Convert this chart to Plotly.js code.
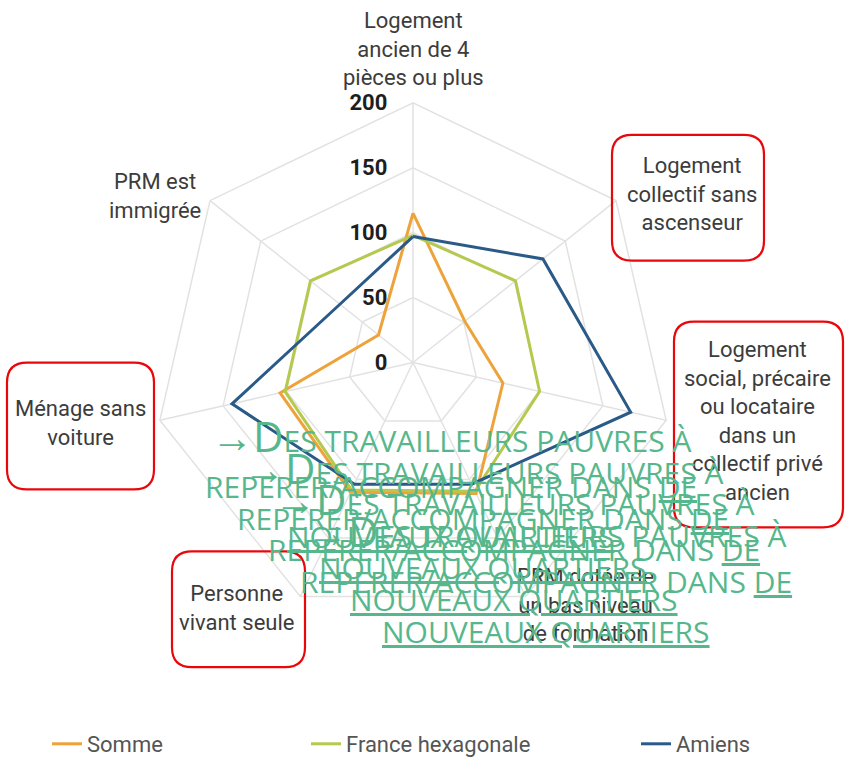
<!DOCTYPE html>
<html>
<head>
<meta charset="utf-8">
<script src="https://cdn.plot.ly/plotly-3.0.1.min.js"></script>
<style>html,body{margin:0;padding:0;background:#fff;}#chart{width:846px;height:765px;}</style>
</head>
<body>
<div id="chart"></div>
<script>
// ---- data ----
const categories = [
  "Logement ancien de 4 pièces ou plus",
  "Logement collectif sans ascenseur",
  "Logement social, précaire ou locataire dans un collectif privé ancien",
  "PRM dotée de un bas niveau de formation",
  "Personne vivant seule",
  "Ménage sans voiture",
  "PRM est immigrée"
];
const categoryLabels = [
  "Logement<br>ancien de 4<br>pièces ou plus",
  "Logement<br>collectif sans<br>ascenseur",
  "Logement<br>social, précaire<br>ou locataire<br>dans un<br>collectif privé<br>ancien",
  "PRM dotée de<br>un bas niveau<br>de formation",
  "Personne<br>vivant seule",
  "Ménage sans<br>voiture",
  "PRM est<br>immigrée"
];
const seriesNames = ["Somme", "France hexagonale", "Amiens"];
const somme  = [115, 51, 71, 112, 111, 105, 34];
const france = [98, 101, 100, 110, 109, 101, 101];
const amiens = [97, 128, 172, 104, 104, 143, 72];
const radialTicks = [0, 50, 100, 150, 200];
const noteLines = [
  '<span style="font-size:42px">→D</span>ES TRAVAILLEURS PAUVRES À',
  'REPERER/ACCOMPAGNER DANS <u>DE</u>',
  '<u>NOUVEAUX QUARTIERS</u>'
];

// ---- layout helpers ----
const W = 846, H = 765;
const px = x => x / W;
const py = y => 1 - y / H;
const cx = 413, cy = 363, R = 260;

const colors = ["#EDA33A", "#B5C94E", "#2A5A88"];
const seriesData = [somme, france, amiens];
const legendIds = ["legend", "legend2", "legend3"];

const traces = seriesData.map((vals, i) => ({
  type: "scatterpolar",
  mode: "lines",
  name: seriesNames[i],
  r: vals.concat([vals[0]]),
  theta: categories.concat([categories[0]]),
  line: {color: colors[i], width: 3},
  legend: legendIds[i],
  hoverinfo: "skip"
}));

// category label positions (pixel centers)
const labelPos = [
  [413, 49], [692, 194], [757, 422], [585, 606], [236, 609], [80, 424], [155, 196]
];
const annotations = categoryLabels.map((t, i) => ({
  xref: "paper", yref: "paper",
  x: px(labelPos[i][0]), y: py(labelPos[i][1]),
  xanchor: "center", yanchor: "middle",
  text: t, showarrow: false,
  font: {family: "Roboto", size: 22, color: "#3c3c3c"}
}));

// repeated green note (4 offset copies)
const noteLineY = [436, 487, 537];
for (let k = 0; k < 4; k++) {
  noteLines.forEach((t, j) => {
    annotations.push({
      xref: "paper", yref: "paper",
      x: px(451 + 31.7 * k), y: py(noteLineY[j] + 31.7 * k),
      xanchor: "center", yanchor: "middle",
      text: t, showarrow: false,
      font: {family: "Open Sans", size: 30, color: "#57B78C"}
    });
  });
}

// red rounded boxes
function roundRect(x0, y0, x1, y1, r) {
  const X = v => px(v), Y = v => py(v);
  return `M${X(x0 + r)},${Y(y0)} L${X(x1 - r)},${Y(y0)} Q${X(x1)},${Y(y0)} ${X(x1)},${Y(y0 + r)} ` +
         `L${X(x1)},${Y(y1 - r)} Q${X(x1)},${Y(y1)} ${X(x1 - r)},${Y(y1)} ` +
         `L${X(x0 + r)},${Y(y1)} Q${X(x0)},${Y(y1)} ${X(x0)},${Y(y1 - r)} ` +
         `L${X(x0)},${Y(y0 + r)} Q${X(x0)},${Y(y0)} ${X(x0 + r)},${Y(y0)} Z`;
}
const boxes = [
  [612, 135, 764, 261],
  [674, 322, 843, 528],
  [7, 363, 154, 490],
  [172, 552, 305, 668]
];
const shapes = boxes.map(b => ({
  type: "path", xref: "paper", yref: "paper",
  path: roundRect(b[0], b[1], b[2], b[3], 20),
  line: {color: "#E8080C", width: 2.2},
  layer: "above"
}));

const legendCommon = {
  orientation: "h", yanchor: "middle", xanchor: "left",
  font: {family: "Roboto", size: 22, color: "#555"},
  bgcolor: "rgba(0,0,0,0)", itemwidth: 30
};

const pad = "\u00A0\u00A0\u00A0\u00A0";
const layout = {
  width: W, height: H,
  margin: {l: 0, r: 0, t: 0, b: 0},
  paper_bgcolor: "#fff",
  showlegend: true,
  polar: {
    domain: {x: [px(cx - R), px(cx + R)], y: [py(cy + R), py(cy - R)]},
    gridshape: "linear",
    bgcolor: "rgba(0,0,0,0)",
    radialaxis: {
      range: [0, 200], tickvals: radialTicks, ticktext: radialTicks.map(v => String(v) + pad),
      angle: 90, side: "counterclockwise", showline: false, ticks: "",
      tickangle: 90,
      gridcolor: "#e2e2e2", gridwidth: 1.5,
      tickfont: {family: "Roboto", size: 22, color: "#1e1e1e", weight: "bold"}
    },
    angularaxis: {
      type: "category", categoryarray: categories,
      direction: "clockwise", rotation: 90,
      showticklabels: false, ticks: "",
      showline: true, linecolor: "#e2e2e2", linewidth: 1.5,
      gridcolor: "#e2e2e2", gridwidth: 1.5
    }
  },
  legend:  Object.assign({x: px(47), y: py(745)}, legendCommon),
  legend2: Object.assign({x: px(306), y: py(745)}, legendCommon),
  legend3: Object.assign({x: px(636), y: py(745)}, legendCommon),
  annotations: annotations,
  shapes: shapes
};

Plotly.newPlot("chart", traces, layout, {displayModeBar: false, staticPlot: true});
</script>
</body>
</html>
